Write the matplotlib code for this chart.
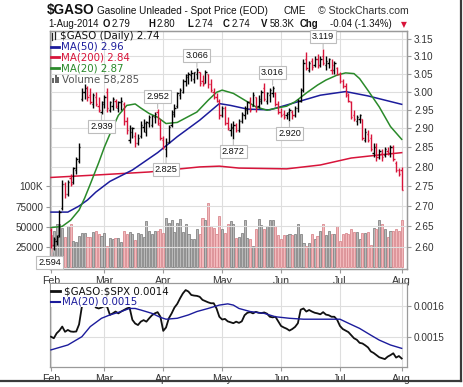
import numpy as np
import matplotlib.pyplot as plt
from matplotlib.lines import Line2D
from matplotlib.patches import Rectangle

W, H = 464, 387

# daily OHLC, 3-Feb-2014 .. 1-Aug-2014 (trading-day index 0..125)
opens = [2.64, 2.605, 2.615, 2.63, 2.695, 2.755, 2.73, 2.77, 2.76, 2.79,
         2.815, 2.98, 3.00, 3.01, 2.99, 2.965, 2.985, 2.96, 2.945, 2.965,
         3.00, 2.95, 2.96, 2.975, 2.955, 2.97, 2.965, 2.92, 2.87, 2.89,
         2.88, 2.86, 2.88, 2.905, 2.89, 2.915, 2.91, 2.93, 2.945, 2.91,
         2.87, 2.845, 2.865, 2.91, 2.94, 2.96, 2.99, 3.00, 3.03, 3.04,
         3.045, 3.035, 3.05, 3.055, 3.03, 3.025, 3.05, 3.02, 3.00, 2.985,
         2.975, 2.935, 2.955, 2.915, 2.895, 2.90, 2.91, 2.895, 2.92, 2.935,
         2.95, 2.975, 2.96, 2.985, 2.96, 2.975, 3.01, 2.975, 2.99, 2.995,
         2.995, 2.965, 2.945, 2.94, 2.935, 2.945, 2.945, 2.935, 2.955, 2.975,
         3.005, 3.09, 3.06, 3.085, 3.075, 3.09, 3.075, 3.10, 3.075, 3.08,
         3.06, 3.06, 3.065, 3.05, 3.03, 3.015, 2.99, 2.97, 2.935, 2.92,
         2.925, 2.925, 2.87, 2.885, 2.875, 2.835, 2.85, 2.825, 2.835, 2.83,
         2.84, 2.835, 2.85, 2.81, 2.79, 2.79]
highs = [2.647, 2.625, 2.63, 2.69, 2.765, 2.76, 2.765, 2.78, 2.80, 2.825,
         2.86, 3.01, 3.02, 3.015, 3.01, 2.995, 3.00, 2.985, 2.975, 2.99,
         3.01, 2.975, 2.985, 2.98, 2.975, 2.985, 2.97, 2.93, 2.91, 2.905,
         2.89, 2.885, 2.92, 2.925, 2.92, 2.935, 2.935, 2.945, 2.952, 2.925,
         2.88, 2.875, 2.91, 2.95, 2.965, 3.00, 3.01, 3.035, 3.05, 3.055,
         3.06, 3.055, 3.066, 3.055, 3.045, 3.06, 3.05, 3.035, 3.01, 2.995,
         2.98, 2.96, 2.96, 2.93, 2.915, 2.92, 2.915, 2.925, 2.945, 2.96,
         2.975, 2.985, 3.00, 2.985, 2.99, 3.005, 3.025, 3.00, 3.01, 3.016,
         3.00, 2.975, 2.955, 2.95, 2.945, 2.955, 2.95, 2.96, 2.98, 3.01,
         3.09, 3.11, 3.085, 3.095, 3.10, 3.105, 3.10, 3.119, 3.10, 3.095,
         3.09, 3.085, 3.07, 3.055, 3.035, 3.025, 2.995, 2.975, 2.95, 2.935,
         2.94, 2.925, 2.90, 2.895, 2.885, 2.86, 2.86, 2.845, 2.845, 2.85,
         2.85, 2.855, 2.855, 2.815, 2.795, 2.80]
lows = [2.598, 2.594, 2.605, 2.625, 2.69, 2.72, 2.725, 2.75, 2.755, 2.78,
        2.81, 2.975, 2.98, 2.975, 2.965, 2.955, 2.96, 2.945, 2.939, 2.955,
        2.945, 2.945, 2.95, 2.955, 2.945, 2.95, 2.91, 2.885, 2.86, 2.875,
        2.85, 2.855, 2.875, 2.89, 2.88, 2.905, 2.905, 2.915, 2.91, 2.87,
        2.845, 2.825, 2.86, 2.905, 2.93, 2.955, 2.98, 2.995, 3.015, 3.02,
        3.03, 3.025, 3.035, 3.015, 3.015, 3.025, 3.01, 3.00, 2.98, 2.97,
        2.925, 2.93, 2.91, 2.895, 2.88, 2.872, 2.89, 2.89, 2.915, 2.925,
        2.94, 2.945, 2.96, 2.945, 2.955, 2.965, 2.975, 2.965, 2.97, 2.985,
        2.96, 2.94, 2.93, 2.925, 2.925, 2.92, 2.925, 2.93, 2.945, 2.97,
        3.00, 3.06, 3.055, 3.06, 3.07, 3.065, 3.07, 3.075, 3.06, 3.065,
        3.05, 3.05, 3.045, 3.025, 3.01, 2.985, 2.97, 2.925, 2.92, 2.91,
        2.915, 2.87, 2.865, 2.865, 2.84, 2.825, 2.815, 2.82, 2.815, 2.825,
        2.83, 2.825, 2.815, 2.785, 2.775, 2.74]
closes = [2.605, 2.62, 2.625, 2.685, 2.755, 2.73, 2.76, 2.755, 2.795, 2.82,
          2.85, 3.00, 3.01, 2.985, 2.97, 2.99, 2.965, 2.95, 2.97, 2.985,
          2.955, 2.97, 2.98, 2.96, 2.97, 2.975, 2.92, 2.895, 2.90, 2.902,
          2.86, 2.875, 2.91, 2.915, 2.918, 2.93, 2.932, 2.94, 2.915, 2.875,
          2.85, 2.865, 2.905, 2.945, 2.955, 2.995, 3.005, 3.03, 3.045, 3.05,
          3.052, 3.054, 3.06, 3.025, 3.02, 3.055, 3.02, 3.005, 2.985, 2.975,
          2.935, 2.955, 2.915, 2.90, 2.905, 2.91, 2.895, 2.92, 2.94, 2.955,
          2.97, 2.95, 2.99, 2.955, 2.98, 3.00, 2.98, 2.995, 3.005, 3.01,
          2.965, 2.945, 2.935, 2.93, 2.94, 2.95, 2.935, 2.955, 2.975, 3.005,
          3.08, 3.065, 3.08, 3.07, 3.09, 3.075, 3.09, 3.08, 3.085, 3.09,
          3.075, 3.08, 3.05, 3.03, 3.015, 2.995, 2.975, 2.93, 2.925, 2.93,
          2.935, 2.875, 2.89, 2.87, 2.845, 2.85, 2.825, 2.84, 2.825, 2.845,
          2.835, 2.85, 2.82, 2.79, 2.78, 2.74]
volume_k = [40, 45, 53, 54, 49, 37, 51, 54, 33, 31, 39, 42, 43, 37, 38, 44, 45, 41, 39, 42,
            26, 36, 35, 36, 36, 31, 45, 41, 44, 41, 34, 43, 41, 37, 57, 45, 41, 45, 45, 47,
            42, 61, 55, 59, 44, 55, 60, 44, 53, 41, 35, 35, 48, 41, 61, 58, 80, 51, 49, 41,
            63, 47, 42, 53, 57, 53, 36, 37, 42, 59, 36, 35, 26, 47, 60, 52, 47, 51, 59, 59,
            51, 40, 35, 40, 40, 41, 40, 41, 53, 41, 30, 26, 30, 41, 35, 39, 45, 53, 40, 45,
            41, 41, 51, 32, 41, 42, 41, 47, 44, 44, 35, 43, 42, 44, 28, 49, 47, 59, 53, 47,
            37, 45, 45, 48, 45, 58.285]

# moving averages (day index, value)
ma50_day = [0, 6, 10, 13, 16, 21, 29, 38, 45, 53, 60, 64, 70, 78, 88, 96, 105, 113, 125]
ma50 = [2.685, 2.685, 2.70, 2.715, 2.735, 2.762, 2.791, 2.836, 2.878, 2.922,
        2.967, 2.962, 2.952, 2.95, 2.972, 2.99, 3.0, 2.988, 2.965]
ma200_day = [0, 18, 35, 53, 60, 67, 84, 96, 107, 117, 125]
ma200 = [2.772, 2.779, 2.786, 2.799, 2.801, 2.796, 2.794, 2.804, 2.822, 2.830, 2.836]
ma20_day = [0, 4, 7, 10, 12, 14, 17, 19, 21, 24, 27, 30, 32, 35, 38, 41, 45, 48, 52, 56,
            59, 61, 65, 70, 73, 77, 80, 84, 87, 91, 95, 98, 102, 105, 108, 110, 113, 117, 121, 125]
ma20 = [2.647, 2.65, 2.665, 2.69, 2.72, 2.755, 2.81, 2.85, 2.885, 2.935,
        2.962, 2.966, 2.955, 2.94, 2.93, 2.913, 2.916, 2.928, 2.944, 2.976,
        2.998, 3.004, 2.995, 2.972, 2.958, 2.949, 2.954, 2.96, 2.972, 2.996,
        3.018, 3.032, 3.046, 3.052, 3.05, 3.036, 3.003, 2.958, 2.905, 2.871]

# $GASO:$SPX ratio, in units of 1e-4
ratio_e4 = [15.00, 14.95, 15.11, 15.20, 15.33, 15.16, 15.22, 15.17, 15.16, 15.17,
            15.40, 15.98, 16.15, 16.10, 16.05, 16.10, 15.95, 15.92, 15.95, 16.00,
            15.98, 15.71, 15.76, 15.82, 15.76, 15.82, 15.87, 15.92, 15.95, 15.55,
            15.43, 15.38, 15.49, 15.54, 15.49, 15.60, 15.70, 15.76, 15.80, 15.65,
            15.19, 15.30, 15.60, 15.76, 15.95, 16.07, 16.25, 16.41, 16.52, 16.47,
            16.36, 16.34, 16.33, 16.30, 16.20, 16.16, 16.12, 16.09, 16.09, 15.92,
            15.65, 15.56, 15.58, 15.50, 15.47, 15.44, 15.49, 15.45, 15.50, 15.70,
            15.78, 15.80, 15.76, 15.81, 15.78, 15.77, 15.79, 15.75, 15.65, 15.63,
            15.65, 15.50, 15.35, 15.30, 15.26, 15.20, 15.25, 15.32, 15.44, 15.88,
            15.92, 15.82, 15.87, 15.82, 15.78, 15.76, 15.73, 15.80, 15.72, 15.70,
            15.65, 15.65, 15.55, 15.35, 15.25, 15.20, 15.15, 15.05, 14.95, 14.90,
            14.80, 14.78, 14.72, 14.65, 14.52, 14.47, 14.40, 14.33, 14.30, 14.27,
            14.35, 14.40, 14.46, 14.32, 14.37, 14.29]
rma_day = [0, 6, 11, 14, 18, 21, 25, 28, 30, 32, 36, 39, 41, 45, 49, 52, 56, 60, 63, 65,
           67, 71, 76, 80, 85, 90, 96, 100, 103, 106, 110, 114, 117, 121, 125]
rma_e4 = [14.57, 14.73, 15.0, 15.33, 15.60, 15.71, 15.82, 15.92, 15.92, 15.87,
          15.76, 15.63, 15.57, 15.60, 15.71, 15.82, 15.92, 16.03, 16.07, 16.03,
          15.92, 15.82, 15.76, 15.65, 15.60, 15.57, 15.57, 15.57, 15.57, 15.44,
          15.27, 15.05, 14.89, 14.73, 14.62]

month_day = [0, 19, 40, 61, 82, 103, 125]
month_lbl = ['Feb', 'Mar', 'Apr', 'May', 'Jun', 'Jul', 'Aug']
price_ticks = [2.60, 2.65, 2.70, 2.75, 2.80, 2.85, 2.90, 2.95, 3.00, 3.05, 3.10, 3.15]
vol_ticks = [25000, 50000, 75000, 100000]
vol_lbl = ['25000', '50000', '75000', '100K']
# (day, 'high'/'low') of the marked swing points
marks = [(1, 'low'), (18, 'low'), (38, 'high'), (41, 'low'), (52, 'high'),
         (65, 'low'), (79, 'high'), (85, 'low'), (97, 'high')]

RED = '#d8143a'
NAVY = '#1c1c9c'
GREEN = '#2a8a2a'
GRID = '#dedede'
SPINE = '#9a9a9a'
TXT = '#333333'
plt.rcParams['font.family'] = ['Liberation Sans', 'DejaVu Sans']


def box(x0, y0, x1, y1):
    return [x0 / W, 1 - y1 / H, (x1 - x0) / W, (y1 - y0) / H]


def ftext(x, y, s, **kw):
    kw.setdefault('va', 'center')
    kw.setdefault('fontsize', 7.5)
    kw.setdefault('color', '#111111')
    return fig.text(x / W, 1 - y / H, s, **kw)


def fline(x0, x1, y, color, lw=2.0):
    fig.add_artist(Line2D([x0 / W, x1 / W], [1 - y / H, 1 - y / H],
                          transform=fig.transFigure, color=color, lw=lw, zorder=4))


days = np.arange(len(closes))
o = np.array(opens)
h = np.array(highs)
l = np.array(lows)
c = np.array(closes)
prev = np.concatenate([[o[0]], c[:-1]])
up = c >= prev
bar_col = np.where(up, '#000000', RED)

fig = plt.figure(figsize=(W / 100, H / 100), dpi=100)
fig.patch.set_facecolor('white')
XL = (-0.36, 127.0)

# ---- main panel: volume underneath, price on top
axv = fig.add_axes(box(50, 31, 407.3, 268.7))
axv.bar(days, np.array(volume_k) * 1000, width=0.74,
        color=np.where(up, '#b9b9b9', '#f2b9bc'),
        edgecolor=np.where(up, '#858585', '#d98a90'), lw=0.6, zorder=2)
axv.set_ylim(-1600, 292000)
axv.set_xlim(*XL)
axv.set_yticks(vol_ticks)
axv.set_yticklabels(vol_lbl)
axv.set_xticks(month_day)
axv.set_xticklabels(month_lbl)
for d in month_day:
    axv.axvline(d, color=GRID, lw=0.8, zorder=0)

ax = axv.twinx()
ax.set_yscale('log')
ax.set_ylim(2.5487, 3.172)
ax.set_xlim(*XL)
ax.patch.set_visible(False)
ax.set_yticks(price_ticks)
ax.set_yticklabels(['%.2f' % p for p in price_ticks])
ax.yaxis.set_minor_locator(plt.NullLocator())
ax.yaxis.set_minor_formatter(plt.NullFormatter())
for p in price_ticks:
    ax.axhline(p, color=GRID, lw=0.8, zorder=0)

ax.plot(ma200_day, ma200, color=RED, lw=1.1, zorder=3)
ax.plot(ma50_day, ma50, color=NAVY, lw=1.1, zorder=3)
ax.plot(ma20_day, ma20, color=GREEN, lw=1.1, zorder=3)

tk = 0.45
ax.vlines(days, l, h, colors=bar_col, lw=1.0, zorder=4)
ax.hlines(o, days - tk, days, colors=bar_col, lw=1.0, zorder=4)
ax.hlines(c, days, days + tk, colors=bar_col, lw=1.0, zorder=4)

for d, side in marks:
    v = h[d] if side == 'high' else l[d]
    dy = 6 if side == 'high' else -6
    dx = -3 if d < 3 else 0
    ax.annotate('%.3f' % v, xy=(d, v), xytext=(dx, dy), textcoords='offset points',
                ha='center', va='bottom' if side == 'high' else 'top',
                fontsize=6.6, color='#111111', zorder=6,
                bbox=dict(boxstyle='square,pad=0.22', fc='white', ec='#bdbdbd', lw=0.8),
                arrowprops=dict(arrowstyle='-', color='#bdbdbd', lw=0.8,
                                shrinkA=0, shrinkB=0.5))

# ---- lower panel: ratio
axr = fig.add_axes(box(50, 283.3, 407.3, 367.3))
axr.plot(days, np.array(ratio_e4) * 1e-4, color='#111111', lw=1.3, zorder=3)
axr.plot(rma_day, np.array(rma_e4) * 1e-4, color=NAVY, lw=1.0, zorder=3)
axr.set_xlim(*XL)
axr.set_ylim(0.0014003, 0.001674)
axr.yaxis.tick_right()
axr.set_yticks([0.0015, 0.0016])
axr.set_yticklabels(['0.0015', '0.0016'])
axr.set_xticks(month_day)
axr.set_xticklabels(month_lbl)
axr.grid(True, color=GRID, lw=0.8, zorder=0)

for a in (axv, ax, axr):
    for s in a.spines.values():
        s.set_color(SPINE)
        s.set_linewidth(0.9)
    a.tick_params(axis='both', labelsize=7.2, colors=TXT, length=3, width=0.8, pad=1.8)
    a.tick_params(axis='both', color=SPINE)
axv.tick_params(axis='x', pad=2.5, labelsize=7.6)
axr.tick_params(axis='x', pad=1.5, labelsize=7.6)

# ---- header
ftext(47, 10, r'\$GASO', fontsize=9.8, fontweight='bold')
ftext(97, 11, 'Gasoline Unleaded - Spot Price (EOD)', fontsize=7.2)
ftext(284, 11, 'CME', fontsize=7.2)
ftext(318, 11, '\u00a9 StockCharts.com', fontsize=7.6, color='#333333')
ftext(48, 24, '1-Aug-2014', fontsize=6.9)
hdr = [(103, 'O', True), (112, '2.79', False), (148, 'H', True), (157, '2.80', False),
       (187, 'L', True), (195, '2.74', False), (223, 'C', True), (232, '2.74', False),
       (261, 'V', True), (270, '58.3K', False), (300, 'Chg', True),
       (330, '-0.04 (-1.34%)', False)]
for x, s, b in hdr:
    ftext(x, 24, s, fontsize=6.9, fontweight='bold' if b else 'normal')
ftext(401, 24.5, '\u25bc', fontsize=5.5, color=RED, family='DejaVu Sans')

# ---- main legend
LF = dict(fontsize=7.4, family='DejaVu Sans', zorder=5)
for xx, y0, y1 in [(52.5, 33, 40), (55.5, 32, 39)]:
    fig.add_artist(Line2D([xx / W, xx / W], [1 - y0 / H, 1 - y1 / H],
                          transform=fig.transFigure, color='#222222', lw=0.9))
ftext(60, 36, r'\$GASO (Daily) 2.74', color='#111111', **LF)
fline(51, 59, 46.7, NAVY)
ftext(61, 46.7, 'MA(50) 2.96', color=NAVY, **LF)
fline(51, 59, 57.3, RED)
ftext(61, 57.3, 'MA(200) 2.84', color=RED, **LF)
fline(51, 59, 68.3, GREEN)
ftext(61, 68.3, 'MA(20) 2.87', color=GREEN, **LF)
for k, hh in enumerate([5, 8, 6]):
    fig.add_artist(Rectangle(((52 + 2.6 * k) / W, 1 - 83 / H), 2 / W, hh / H,
                             transform=fig.transFigure, color='#666666', lw=0))
ftext(62, 79.5, 'Volume 58,285', color='#555555', **LF)

# ---- ratio legend (opaque, hides the line behind it as in the original)
fig.add_artist(Rectangle((50.8 / W, 1 - 306.5 / H), 87 / W, 22.5 / H,
                         transform=fig.transFigure, fc='white', ec='none', zorder=3))
fline(51, 60, 291, '#111111')
ftext(64, 291, r'\$GASO:\$SPX 0.0014', color='#111111', **LF)
fline(51, 60, 301.7, NAVY, lw=1.5)
ftext(62, 301.7, 'MA(20) 0.0015', color=NAVY, **LF)

# ---- screenshot frame
fig.add_artist(Line2D([461 / W, 461 / W], [1, 1 - 381 / H], transform=fig.transFigure,
                      color='#3a3a3a', lw=1.6))
fig.add_artist(Line2D([0, 461 / W], [1 - 381 / H, 1 - 381 / H], transform=fig.transFigure,
                      color='#3a3a3a', lw=1.6))

fig.savefig('out.png', dpi=100)
